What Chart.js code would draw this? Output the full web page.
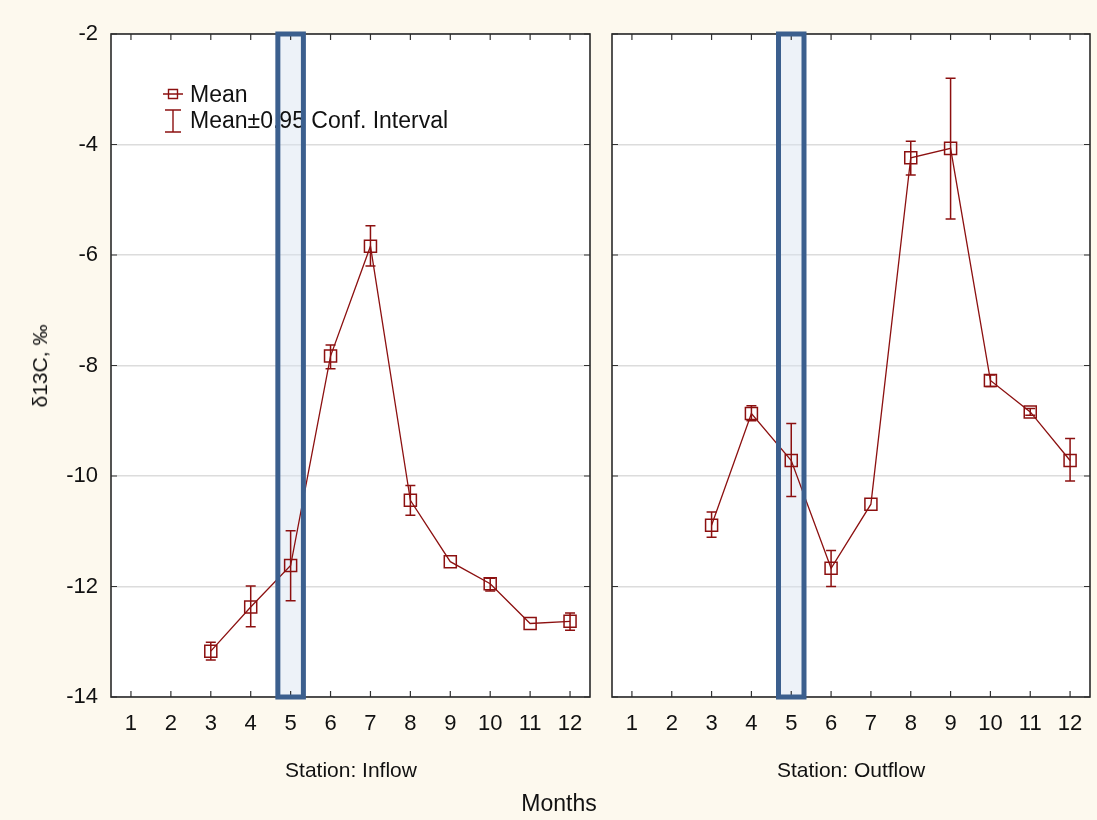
<!DOCTYPE html>
<html>
<head>
<meta charset="utf-8">
<title>δ13C by month</title>
<script src="https://cdn.jsdelivr.net/npm/chart.js@4/dist/chart.umd.min.js"></script>
<style>
    body { margin: 0; background: #fdf9ee; }
    #wrap {
        position: relative;
        width: 1097px;
        height: 820px;
        background: #fdf9ee;
        font-family: "Liberation Sans", Arial, sans-serif;
        color: #111;
    }
    #wrap canvas { position: absolute; left: 0; top: 0; }
    .label {
        position: absolute;
        font-size: 21px;
        white-space: nowrap;
        transform: translate(-50%, -50%);
    }
    .label.vertical { transform: translate(-50%, -50%) rotate(-90deg); }
</style>
</head>
<body>
<div id="wrap">
    <canvas id="inflowChart" width="1097" height="820"></canvas>
    <canvas id="outflowChart" width="1097" height="820"></canvas>
    <div class="label vertical" style="left:40px; top:366px;">δ13C, ‰</div>
    <div class="label" style="left:351px; top:770px;">Station: Inflow</div>
    <div class="label" style="left:851px; top:770px;">Station: Outflow</div>
    <div class="label" style="left:559px; top:803px; font-size:23px;">Months</div>
</div>

<script>
// Months on the x axis
const months = ['1', '2', '3', '4', '5', '6', '7', '8', '9', '10', '11', '12'];

// Y axis range and tick step
const yMin = -14;
const yMax = -2;
const yStep = 2;

// Inflow station: monthly means and 0.95 confidence limits
const inflowMean  = [null, null, -13.17, -12.37, -11.62, -7.83, -5.84, -10.44, -11.55, -11.95, -12.67, -12.63];
const inflowUpper = [null, null, -13.01, -11.99, -10.99, -7.63, -5.47, -10.17, null, -11.85, null, -12.48];
const inflowLower = [null, null, -13.33, -12.73, -12.26, -8.06, -6.20, -10.71, null, -12.08, null, -12.79];

// Outflow station: monthly means and 0.95 confidence limits
const outflowMean  = [null, null, -10.89, -8.87, -9.72, -11.67, -10.51, -4.24, -4.07, -8.27, -8.84, -9.72];
const outflowUpper = [null, null, -10.65, -8.73, -9.05, -11.35, null, -3.94, -2.80, -8.17, -8.78, -9.32];
const outflowLower = [null, null, -11.11, -9.00, -10.37, -12.00, null, -4.55, -5.35, -8.38, -8.90, -10.09];

// Month picked out with a box on both panels
const highlightMonth = '5';

const RED = '#8c1010';
const FONT = { family: '"Liberation Sans", Arial, sans-serif', size: 22 };

// Draws plot background, highlight box, legend, error bars, frame and inner ticks
const panelPlugin = {
    id: 'panel',
    beforeDraw(chart) {
        const { ctx, chartArea: a } = chart;
        ctx.save();
        ctx.fillStyle = '#ffffff';
        ctx.fillRect(a.left, a.top, a.right - a.left, a.bottom - a.top);
        ctx.restore();
    },
    beforeDatasetsDraw(chart, args, opts) {
        const { ctx, chartArea: a } = chart;
        const box = highlightBox(chart);
        ctx.save();
        ctx.fillStyle = 'rgba(214, 227, 240, 0.45)';
        ctx.fillRect(box.left, a.top, box.right - box.left, a.bottom - a.top);
        ctx.restore();
        if (opts.legend) drawLegend(ctx);
    },
    afterDatasetsDraw(chart, args, opts) {
        const { ctx } = chart;
        const x = chart.scales.x;
        const y = chart.scales.y;
        ctx.save();
        ctx.strokeStyle = RED;
        ctx.lineWidth = 1.5;
        opts.upper.forEach((hi, i) => {
            const lo = opts.lower[i];
            if (hi === null || lo === null) return;
            const px = x.getPixelForValue(i);
            const y1 = y.getPixelForValue(hi);
            const y2 = y.getPixelForValue(lo);
            ctx.beginPath();
            ctx.moveTo(px, y1); ctx.lineTo(px, y2);
            ctx.moveTo(px - 5, y1); ctx.lineTo(px + 5, y1);
            ctx.moveTo(px - 5, y2); ctx.lineTo(px + 5, y2);
            ctx.stroke();
        });
        ctx.restore();
    },
    afterDraw(chart) {
        const { ctx, chartArea: a } = chart;
        const x = chart.scales.x;
        const y = chart.scales.y;
        ctx.save();
        // tick marks pointing into the plot
        ctx.strokeStyle = '#333';
        ctx.lineWidth = 1.2;
        ctx.beginPath();
        x.ticks.forEach((t, i) => {
            const px = x.getPixelForTick(i);
            ctx.moveTo(px, a.bottom); ctx.lineTo(px, a.bottom - 6);
            ctx.moveTo(px, a.top); ctx.lineTo(px, a.top + 6);
        });
        y.ticks.forEach(t => {
            const py = y.getPixelForValue(t.value);
            ctx.moveTo(a.left, py); ctx.lineTo(a.left + 6, py);
            ctx.moveTo(a.right, py); ctx.lineTo(a.right - 6, py);
        });
        ctx.stroke();
        // frame
        ctx.strokeStyle = '#2a2a2a';
        ctx.lineWidth = 1.6;
        ctx.strokeRect(a.left, a.top, a.right - a.left, a.bottom - a.top);
        // highlight box outline on top of the frame
        const box = highlightBox(chart);
        ctx.strokeStyle = '#3b5f8e';
        ctx.lineWidth = 5;
        ctx.strokeRect(box.left, a.top, box.right - box.left, a.bottom - a.top);
        ctx.restore();
    }
};

// Box around the highlighted month, in x-scale units
function highlightBox(chart) {
    const x = chart.scales.x;
    const idx = months.indexOf(highlightMonth);
    return {
        left: x.getPixelForValue(idx - 0.32),
        right: x.getPixelForValue(idx + 0.32)
    };
}

// Legend: mean marker and confidence interval symbol
function drawLegend(ctx) {
    ctx.save();
    ctx.strokeStyle = RED;
    ctx.lineWidth = 1.4;
    ctx.beginPath();
    ctx.moveTo(163, 94); ctx.lineTo(183, 94);
    ctx.rect(168.5, 89.5, 9, 9);
    ctx.moveTo(173, 110); ctx.lineTo(173, 132);
    ctx.moveTo(165, 110); ctx.lineTo(181, 110);
    ctx.moveTo(165, 132); ctx.lineTo(181, 132);
    ctx.stroke();
    ctx.fillStyle = '#111';
    ctx.font = '23px "Liberation Sans", Arial, sans-serif';
    ctx.textBaseline = 'middle';
    ctx.fillText('Mean', 190, 96);
    ctx.fillText('Mean±0.95 Conf. Interval', 190, 122);
    ctx.restore();
}

function createPanel(canvasId, mean, upper, lower, layout) {
    const ctx = document.getElementById(canvasId).getContext('2d');
    return new Chart(ctx, {
        type: 'line',
        data: {
            labels: months,
            datasets: [{
                data: mean,
                borderColor: RED,
                borderWidth: 1.3,
                pointStyle: 'rect',
                pointRadius: 8.5,
                pointBorderWidth: 1.5,
                pointBorderColor: RED,
                pointBackgroundColor: 'rgba(0,0,0,0)',
                tension: 0,
                spanGaps: false
            }]
        },
        options: {
            responsive: false,
            animation: false,
            events: [],
            layout: {
                autoPadding: false,
                padding: { left: 0, right: layout.padRight, top: 34, bottom: 0 }
            },
            plugins: {
                legend: { display: false },
                tooltip: { enabled: false },
                panel: { legend: layout.legend, upper: upper, lower: lower }
            },
            scales: {
                x: {
                    offset: true,
                    grid: { display: false, drawTicks: false },
                    border: { display: false },
                    ticks: { color: '#111', font: FONT, padding: 14, autoSkip: false, maxRotation: 0 },
                    afterFit: axis => { axis.height = 123; }
                },
                y: {
                    min: yMin,
                    max: yMax,
                    grid: { color: '#dcdcdc', lineWidth: 1.5, drawTicks: false },
                    border: { display: false },
                    ticks: { stepSize: yStep, display: layout.yLabels, color: '#111', font: FONT, padding: 13 },
                    afterFit: axis => { axis.width = layout.left; }
                }
            }
        },
        plugins: [panelPlugin]
    });
}

document.addEventListener('DOMContentLoaded', function() {
    createPanel('inflowChart', inflowMean, inflowUpper, inflowLower,
        { left: 111, padRight: 507, yLabels: true, legend: true });
    createPanel('outflowChart', outflowMean, outflowUpper, outflowLower,
        { left: 612, padRight: 7, yLabels: false, legend: false });
});
</script>
</body>
</html>
